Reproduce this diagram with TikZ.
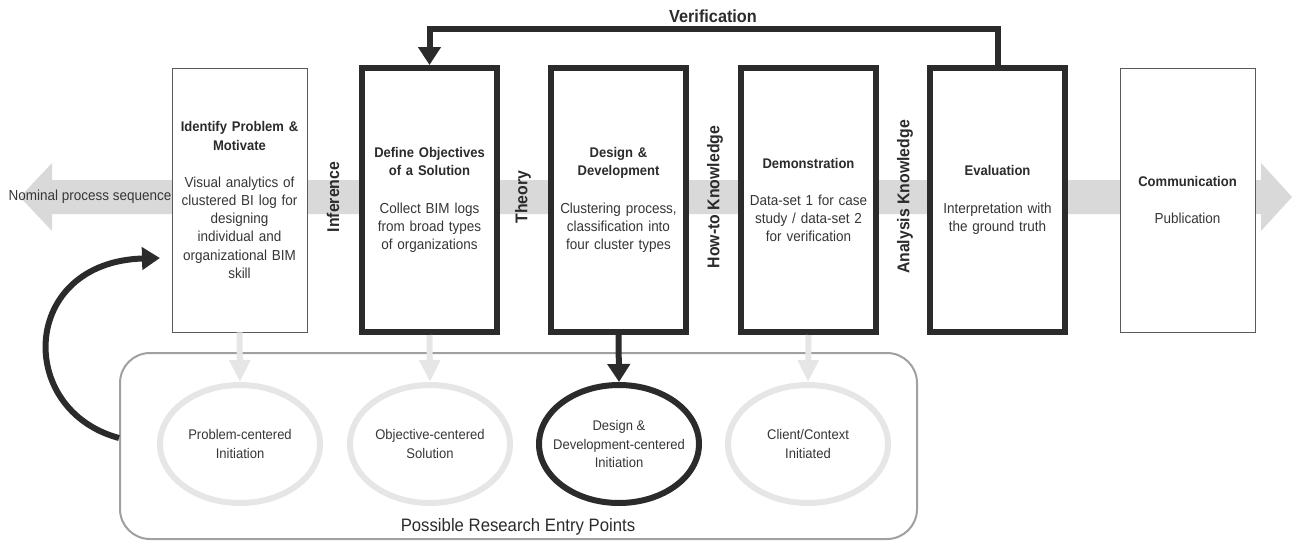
\documentclass[tikz,border=0pt]{standalone}
\usepackage{fontspec}
\setmainfont{Liberation Sans}[FakeStretch=0.93]
\usepackage{xcolor}
\usetikzlibrary{arrows.meta}
\usetikzlibrary{shapes.geometric}

\definecolor{ink}{HTML}{2B2B2B}
\definecolor{bodygray}{HTML}{363636}
\definecolor{bandgray}{HTML}{D9D9D9}
\definecolor{pale}{HTML}{E6E6E6}
\definecolor{framegray}{HTML}{A0A0A0}

\newcommand{\bodyfont}{\fontsize{14.5}{18.2}\selectfont}
\newcommand{\headline}[1]{{\color{ink}\fontsize{14}{18.2}\selectfont\bfseries #1}}

\begin{document}
\begin{tikzpicture}[x=1pt, y=-1pt,
    stage/.style={rectangle, fill=white, minimum width=135pt, minimum height=264pt, inner sep=0pt, text width=133pt, align=center, font=\bodyfont, text=bodygray},
    thinstage/.style={stage, draw=black!65, line width=0.8pt},
    thickstage/.style={stage, draw=ink, line width=6pt},
    gate/.style={rotate=90, font=\fontsize{17}{20}\selectfont\bfseries, text=ink},
    entry/.style={ellipse, minimum width=160pt, minimum height=118pt, line width=6pt, inner xsep=-30pt, inner ysep=0pt, align=center, font=\fontsize{14}{18.5}\selectfont, text=bodygray},
    paleentry/.style={entry, draw=pale},
    darkentry/.style={entry, draw=ink},
    palearrow/.style={draw=pale, line width=6pt, -{Triangle[length=22pt,width=20pt]}},
    darkarrow/.style={draw=ink, line width=6pt, -{Triangle[length=18pt,width=22pt]}}]
\useasboundingbox (0,0) rectangle (1292,541);

\fill[bandgray] (20,197) -- (52,163) -- (52,180) -- (1261,180) -- (1261,163) -- (1292,197)
    -- (1261,231) -- (1261,214) -- (52,214) -- (52,231) -- cycle;
\node[anchor=center, font=\bodyfont, text=bodygray] (nominal) at (90,197) {Nominal process sequence};

\node[thinstage] (probbox) at (239.5,200) {\headline{Identify Problem \&\\ Motivate}\\[19pt]
    Visual analytics of\\ clustered BI log for\\ designing\\ individual and\\ organizational BIM\\ skill};
\node[thickstage] (defbox) at (429.5,200) {\headline{Define Objectives\\ of a Solution}\\[19pt]
    Collect BIM logs\\ from broad types\\ of organizations};
\node[thickstage] (devbox) at (618.5,200) {\headline{Design \&\\ Development}\\[19pt]
    Clustering process,\\ classification into\\ four cluster types};
\node[thickstage] (demobox) at (808.5,200) {\headline{Demonstration}\\[19pt]
    Data-set 1 for case\\ study / data-set 2\\ for verification};
\node[thickstage] (evalbox) at (997.5,200) {\headline{Evaluation}\\[19pt]
    Interpretation with\\ the ground truth};
\node[thinstage] (commbox) at (1187.5,200) {\headline{Communication}\\[19pt]
    Publication};

\node[gate] (inference) at (333,197) {Inference};
\node[gate] (theory) at (523,197) {Theory};
\node[gate] (howto) at (715,197) {How-to Knowledge};
\node[gate] (analysis) at (905,197) {Analysis Knowledge};

\node[anchor=center, font=\fontsize{17.5}{20}\selectfont\bfseries, text=ink] (verif) at (713,16) {Verification};
\draw[darkarrow] (evalbox.north) -- ++(0,-36) -| (defbox.north);

\node[rectangle, draw=framegray, line width=2pt, rounded corners=30pt, minimum width=797pt, minimum height=186pt] (entries) at (518.5,446) {};
\node[anchor=center, font=\fontsize{18}{20}\selectfont, text=ink] (entrylabel) at (518,527) {Possible Research Entry Points};

\node[paleentry] (probentry) at (240,444) {Problem-centered\\ Initiation};
\node[paleentry] (objentry) at (430,444) {Objective-centered\\ Solution};
\node[darkentry] (deventry) at (619,444) {Design \&\\ Development-centered\\ Initiation};
\node[paleentry] (cliententry) at (808,444) {Client/Context\\ Initiated};

\draw[palearrow] (probbox.south) -- (probentry.north);
\draw[palearrow] (defbox.south) -- (objentry.north);
\draw[darkarrow] (devbox.south) -- (deventry.north);
\draw[palearrow] (demobox.south) -- (cliententry.north);

\coordinate (looptip) at (160,258);
\draw[darkarrow] ([yshift=8pt]entries.west) .. controls (15,410) and (20,262) .. (looptip);
\end{tikzpicture}
\end{document}
